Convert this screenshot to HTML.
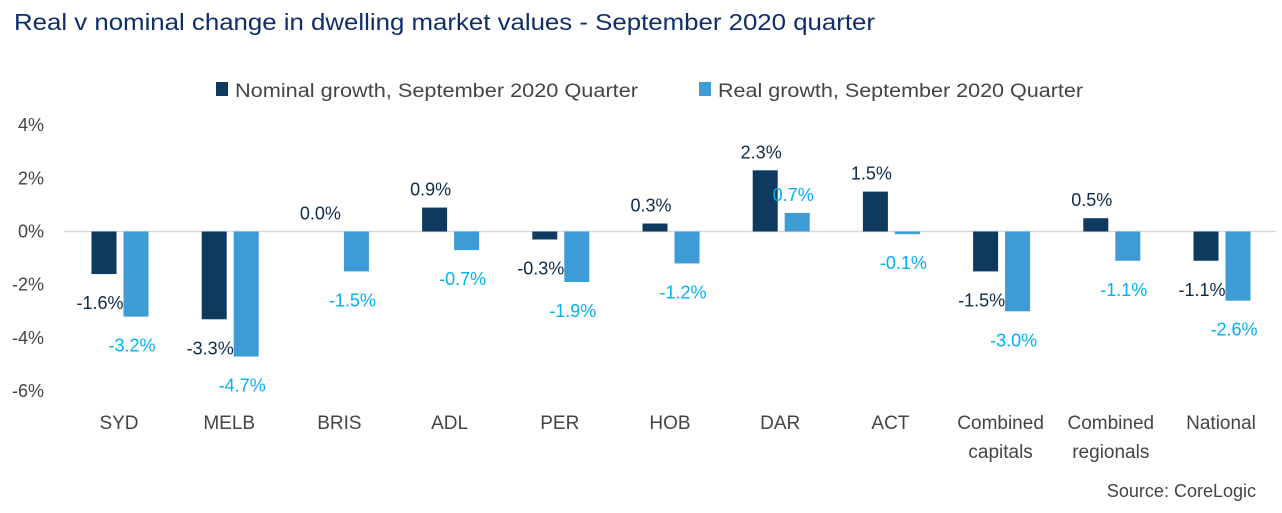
<!DOCTYPE html>
<html><head><meta charset="utf-8"><style>
body{margin:0;background:#fff;width:1282px;height:508px;overflow:hidden;font-family:"Liberation Sans",sans-serif}
</style></head><body>
<svg id="chart" width="1282" height="508" font-family="Liberation Sans, sans-serif">
<text x="14" y="30" font-size="23" fill="#0d2d6b" textLength="861" lengthAdjust="spacingAndGlyphs">Real v nominal change in dwelling market values - September 2020 quarter</text>
<g>
<rect x="216" y="82" width="12" height="14" fill="#0e3a5f"/>
<text x="235" y="97" font-size="19" fill="#444" textLength="403" lengthAdjust="spacingAndGlyphs">Nominal growth, September 2020 Quarter</text>
<rect x="699" y="82" width="12" height="14" fill="#3d9bd6"/>
<text x="718" y="97" font-size="19" fill="#444" textLength="365" lengthAdjust="spacingAndGlyphs">Real growth, September 2020 Quarter</text>
</g>
<g id="plot"></g>
<text x="1256" y="497" font-size="18" fill="#444" text-anchor="end">Source: CoreLogic</text>
</svg>
<script>
const categories=[["SYD"],["MELB"],["BRIS"],["ADL"],["PER"],["HOB"],["DAR"],["ACT"],["Combined","capitals"],["Combined","regionals"],["National"]];
const nominal=[-1.6,-3.3,0.0,0.9,-0.3,0.3,2.3,1.5,-1.5,0.5,-1.1];
const real=[-3.2,-4.7,-1.5,-0.7,-1.9,-1.2,0.7,-0.1,-3.0,-1.1,-2.6];
const yTicks=[4,2,0,-2,-4,-6];
const NS="http://www.w3.org/2000/svg";
const g=document.getElementById('plot');
const y=v=>231.5-v*26.6;
const x=i=>119+i*110.2;
function mk(t,a,txt){const e=document.createElementNS(NS,t);for(const k in a)e.setAttribute(k,a[k]);if(txt!==undefined)e.textContent=txt;g.appendChild(e);return e;}
yTicks.forEach(t=>{
 const e=mk('text',{x:44,y:y(t)+6,'font-size':18,fill:'#444','text-anchor':'end'},t+'%');
 
 
});
const ax=mk('line',{x1:64,x2:1276,y1:y(0),y2:y(0),stroke:'#d9d9d9','stroke-width':1.5});


categories.forEach((c,i)=>{
 c.forEach((line,j)=>{
  const e=mk('text',{x:x(i),y:429+j*29,'font-size':19,fill:'#444','text-anchor':'middle'},line);
  
  
 });
 [[nominal,-15,'#0e3a5f','#0e2a4a','nominal'],[real,17,'#3d9bd6','#00b0f0','real']].forEach(([arr,off,col,lc,nm])=>{
  const v=arr[i],cx=x(i)+off,w=25;
  const top=Math.min(y(v),y(0)),h=Math.abs(y(v)-y(0));
  const r=mk('rect',{x:cx-w/2,y:top,width:w,height:h,fill:col});
  
  
  const ly=v>=0?y(v)-12:y(v)+35;
  const t=mk('text',{x:cx-4,y:ly,'font-size':18,fill:lc,'text-anchor':'middle'},v.toFixed(1)+'%');
  
  
 });
});
</script>
</body></html>
